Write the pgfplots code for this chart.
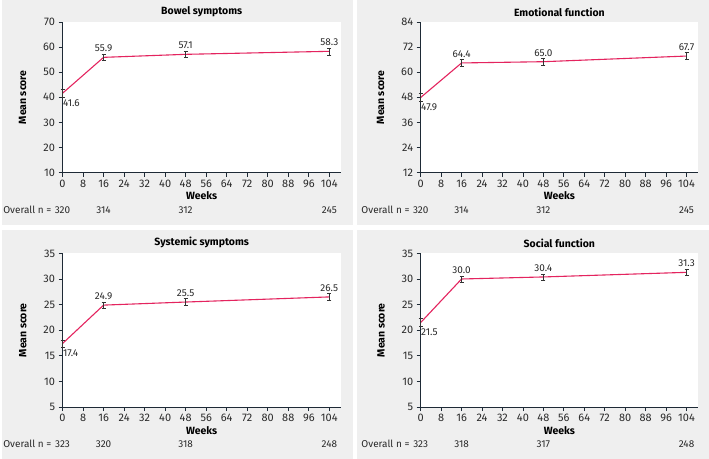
\documentclass[border=0pt]{standalone}
\usepackage{pgfplots}
\pgfplotsset{compat=1.18}
\usepackage{fontspec}
\setmainfont{Fira Sans}
\definecolor{linec}{HTML}{E4245F}
\definecolor{bgc}{HTML}{EFEFEF}
\definecolor{axc}{HTML}{1E2A36}
\definecolor{txt}{HTML}{2A2A2A}
\pgfplotsset{
  panel/.style={
    scale only axis,
    anchor=south west,
    axis x line*=bottom, axis y line*=left,
    axis line style={axc, line width=0.9pt},
    axis background/.style={fill=white},
    tick align=outside, major tick length=4pt,
    tick style={axc, line width=0.8pt},
    xmin=0, xmax=108.5,
    xtick={0,8,...,104},
    ticklabel style={font=\fontsize{11}{13}\selectfont, text=txt},
    xticklabel style={yshift=0.5pt},
    /pgf/number format/assume math mode=true,
    /pgf/number format/fixed,
    xlabel={Weeks}, ylabel={Mean score},
    label style={font=\bfseries\fontsize{10.5}{12}\selectfont},
    xlabel style={yshift=2.5pt},
    ylabel style={yshift=10pt},
    title style={font=\bfseries\fontsize{10.5}{12}\selectfont, yshift=-4pt},
    clip=false,
  },
  dataline/.style={color=linec, line width=1.1pt, mark=none,
    error bars/.cd, y dir=both, y explicit,
    error bar style={color=darkgray!80!black, line width=0.6pt},
    error mark options={rotate=90, mark size=2pt, darkgray!80!black, line width=0.6pt}},
  lab/.style={draw=none, mark=none, nodes near coords, point meta=explicit symbolic,
    nodes near coords style={font=\fontsize{10}{12}\selectfont, text=txt}},
}
\newcommand{\nrow}[6]{%
  \node[anchor=base east, font=\fontsize{10}{12}\selectfont, text=txt] at ([yshift=-41pt]axis cs:-3,#1) {Overall n =};
  \node[anchor=base, font=\fontsize{10}{12}\selectfont, text=txt] at ([yshift=-41pt]axis cs:#2,#1) {#3};
  \node[anchor=base, font=\fontsize{10}{12}\selectfont, text=txt] at ([yshift=-41pt]axis cs:16,#1) {#4};
  \node[anchor=base, font=\fontsize{10}{12}\selectfont, text=txt] at ([yshift=-41pt]axis cs:48,#1) {#5};
  \node[anchor=base, font=\fontsize{10}{12}\selectfont, text=txt] at ([yshift=-41pt]axis cs:104,#1) {#6};
}
\begin{document}
\begin{tikzpicture}
\fill[white] (0pt,0pt) rectangle (709pt,460pt);
\fill[bgc] (0pt,234pt) rectangle (352pt,460pt);
\fill[bgc] (356pt,234pt) rectangle (709pt,460pt);
\fill[bgc] (0pt,0pt) rectangle (352pt,229pt);
\fill[bgc] (356pt,0pt) rectangle (709pt,229pt);

% Bowel symptoms
\begin{axis}[panel, at={(61pt,287pt)}, width=279pt, height=151pt,
  title={Bowel symptoms}, ymin=10, ymax=70, ytick={10,20,...,70}]
\addplot[dataline] table[x=x, y=y, y error=e] {
x y e
0 41.6 1.5
16 55.9 1.2
48 57.1 1.2
104 58.3 1.4
};
\addplot[lab, nodes near coords style={anchor=south, yshift=2pt}] table[x=x, y=y, meta=l] {
x y l
16 55.9 55.9
48 57.1 57.1
104 58.3 58.3
};
\addplot[lab, nodes near coords style={anchor=north west, xshift=-3pt, yshift=-3pt}] table[x=x, y=y, meta=l] {
x y l
0 41.6 41.6
};
\nrow{10}{0}{320}{314}{312}{245}
\end{axis}

% Emotional function
\begin{axis}[panel, at={(420pt,287pt)}, width=278pt, height=151pt,
  title={Emotional function}, ymin=12, ymax=84, ytick={12,24,...,84}]
\addplot[dataline] table[x=x, y=y, y error=e] {
x y e
0 47.9 1.8
16 64.4 1.7
48 65.0 1.8
104 67.7 1.7
};
\addplot[lab, nodes near coords style={anchor=south, yshift=2pt}] table[x=x, y=y, meta=l] {
x y l
16 64.4 64.4
48 65.0 65.0
104 67.7 67.7
};
\addplot[lab, nodes near coords style={anchor=north west, xshift=-3pt, yshift=-3pt}] table[x=x, y=y, meta=l] {
x y l
0 47.9 47.9
};
\nrow{12}{0}{320}{314}{312}{245}
\end{axis}

% Systemic symptoms
\begin{axis}[panel, at={(61pt,52pt)}, width=279pt, height=154pt,
  title={Systemic symptoms}, ymin=5, ymax=35, ytick={5,10,...,35}]
\addplot[dataline] table[x=x, y=y, y error=e] {
x y e
0 17.4 0.7
16 24.9 0.6
48 25.5 0.7
104 26.5 0.7
};
\addplot[lab, nodes near coords style={anchor=south, yshift=2pt}] table[x=x, y=y, meta=l] {
x y l
16 24.9 24.9
48 25.5 25.5
104 26.5 26.5
};
\addplot[lab, nodes near coords style={anchor=north west, xshift=-3pt, yshift=-3pt}] table[x=x, y=y, meta=l] {
x y l
0 17.4 17.4
};
\nrow{5}{0}{323}{320}{318}{248}
\end{axis}

% Social function
\begin{axis}[panel, at={(420pt,52pt)}, width=278pt, height=154pt,
  title={Social function}, ymin=5, ymax=35, ytick={5,10,...,35}]
\addplot[dataline] table[x=x, y=y, y error=e] {
x y e
0 21.5 0.8
16 30.0 0.6
48 30.4 0.6
104 31.3 0.6
};
\addplot[lab, nodes near coords style={anchor=south, yshift=2pt}] table[x=x, y=y, meta=l] {
x y l
16 30.0 30.0
48 30.4 30.4
104 31.3 31.3
};
\addplot[lab, nodes near coords style={anchor=north west, xshift=-3pt, yshift=-3pt}] table[x=x, y=y, meta=l] {
x y l
0 21.5 21.5
};
\nrow{5}{0}{323}{318}{317}{248}
\end{axis}
\end{tikzpicture}
\end{document}
